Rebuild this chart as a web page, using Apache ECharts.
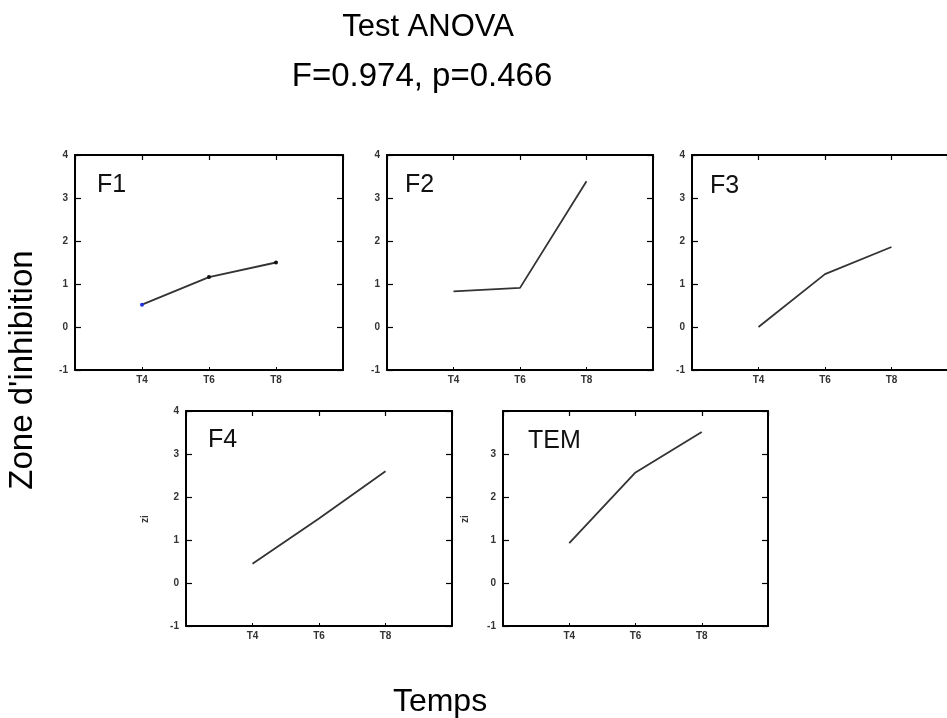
<!DOCTYPE html>
<html>
<head>
<meta charset="utf-8">
<script src="https://cdn.jsdelivr.net/npm/echarts@6/dist/echarts.min.js"></script>
<style>html,body{margin:0;padding:0;background:#fff;}#chart{width:947px;height:718px;}</style>
</head>
<body>
<div id="chart"></div>
<script>
// ---- data ----
const timeLabels = ["T4", "T6", "T8"];
const timePoints = [4, 6, 8];
const yTicks = [-1, 0, 1, 2, 3, 4];
const panelNames = ["F1", "F2", "F3", "F4", "TEM"];
const F1 = [0.52, 1.16, 1.50];
const F2 = [0.83, 0.91, 3.39];
const F3 = [0.00, 1.23, 1.86];
const F4 = [0.45, 1.50, 2.60];
const TEM = [0.93, 2.57, 3.51];
const titleText = "Test ANOVA";
const statText = "F=0.974, p=0.466";
const yAxisTitle = "Zone d'inhibition";
const xAxisTitle = "Temps";
const smallYName = "zi";

const seriesValues = [F1, F2, F3, F4, TEM];

// ---- layout ----
// F3 panel is cut off by the right edge of the picture, so its visible x range ends before 10.
const grids = [
  {left: 75, top: 155, width: 268, height: 215, xMax: 10, rightLine: true},
  {left: 387, top: 155, width: 266, height: 215, xMax: 10, rightLine: true},
  {left: 692, top: 155, width: 255, height: 215, xMax: 9.67, rightLine: false},
  {left: 186, top: 411, width: 266, height: 215, xMax: 10, rightLine: true},
  {left: 503, top: 411, width: 265, height: 215, xMax: 10, rightLine: true}
];
const labelPos = [[97,185],[405,185],[710,186],[208,440],[528,441]];

const tickLabelStyle = {color: '#333', fontSize: 10, fontWeight: 'bold', fontFamily: 'Liberation Sans, Arial'};
const lineStyle = {color: '#000', width: 2};

const xAxes = [], yAxes = [], series = [];
grids.forEach((g, i) => {
  xAxes.push({
    type: 'value', gridIndex: i, min: 2, max: g.xMax, interval: 2, position: 'bottom',
    axisLine: {show: true, onZero: false, lineStyle},
    axisTick: {show: true, inside: true, length: 3, lineStyle: {color: '#000', width: 1}},
    splitLine: {show: false},
    axisLabel: Object.assign({margin: 5, showMaxLabel: false, formatter: v => {
      const k = timePoints.indexOf(v); return k >= 0 ? timeLabels[k] : '';
    }}, tickLabelStyle)
  });
  xAxes.push({
    type: 'value', gridIndex: i, min: 2, max: g.xMax, interval: 2, position: 'top',
    axisLine: {show: true, onZero: false, lineStyle},
    axisTick: {show: true, inside: true, length: 5, lineStyle: {color: '#000', width: 1.2}},
    splitLine: {show: false}, axisLabel: {show: false}
  });
  yAxes.push({
    type: 'value', gridIndex: i, min: yTicks[0], max: yTicks[yTicks.length-1], interval: 1, position: 'left',
    axisLine: {show: true, onZero: false, lineStyle},
    axisTick: {show: true, inside: true, length: 6, lineStyle: {color: '#000', width: 1.2}},
    splitLine: {show: false},
    axisLabel: Object.assign({margin: 7, formatter: v => (i === 4 && v === 4) ? '' : String(v)}, tickLabelStyle)
  });
  yAxes.push({
    type: 'value', gridIndex: i, min: yTicks[0], max: yTicks[yTicks.length-1], interval: 1, position: 'right',
    show: g.rightLine,
    axisLine: {show: true, onZero: false, lineStyle},
    axisTick: {show: true, inside: true, length: 6, lineStyle: {color: '#000', width: 1.2}},
    splitLine: {show: false}, axisLabel: {show: false}
  });
  const vals = seriesValues[i];
  const data = timePoints.map((t, k) => {
    const d = {value: [t, vals[k]]};
    if (i === 0) d.itemStyle = {color: k === 0 ? '#2233dd' : '#111'};
    return d;
  });
  series.push({
    type: 'line', xAxisIndex: i * 2, yAxisIndex: i * 2, data,
    showSymbol: i === 0, symbol: 'circle', symbolSize: 4,
    lineStyle: {color: '#333', width: 1.8},
    itemStyle: {color: '#111'},
    silent: true, animation: false
  });
});

const graphics = [
  {type: 'text', style: {x: 428, y: 27, text: titleText, font: '31px "Liberation Sans", Arial', fill: '#000', textAlign: 'center', textVerticalAlign: 'middle'}},
  {type: 'text', style: {x: 422, y: 77, text: statText, font: '33px "Liberation Sans", Arial', fill: '#000', textAlign: 'center', textVerticalAlign: 'middle'}},
  {type: 'text', x: 23, y: 370, rotation: Math.PI / 2, style: {x: 0, y: 0, text: yAxisTitle, font: '33px "Liberation Sans", Arial', fill: '#000', textAlign: 'center', textVerticalAlign: 'middle'}},
  {type: 'text', style: {x: 440, y: 702, text: xAxisTitle, font: '32px "Liberation Sans", Arial', fill: '#000', textAlign: 'center', textVerticalAlign: 'middle'}},
  {type: 'text', x: 145, y: 519, rotation: Math.PI / 2, style: {x: 0, y: 0, text: smallYName, font: 'bold 10px "Liberation Sans", Arial', fill: '#333', textAlign: 'center', textVerticalAlign: 'middle'}},
  {type: 'text', x: 465, y: 519, rotation: Math.PI / 2, style: {x: 0, y: 0, text: smallYName, font: 'bold 10px "Liberation Sans", Arial', fill: '#333', textAlign: 'center', textVerticalAlign: 'middle'}}
];
panelNames.forEach((n, i) => {
  graphics.push({type: 'text', style: {x: labelPos[i][0], y: labelPos[i][1], text: n, font: '25px "Liberation Sans", Arial', fill: '#111', textAlign: 'left', textVerticalAlign: 'middle'}});
});

const chart = echarts.init(document.getElementById('chart'), null, {renderer: 'canvas'});
chart.setOption({
  backgroundColor: '#fff',
  animation: false,
  grid: grids.map(g => ({left: g.left, top: g.top, width: g.width, height: g.height, containLabel: false})),
  xAxis: xAxes,
  yAxis: yAxes,
  series,
  graphic: graphics
});
</script>
</body>
</html>
